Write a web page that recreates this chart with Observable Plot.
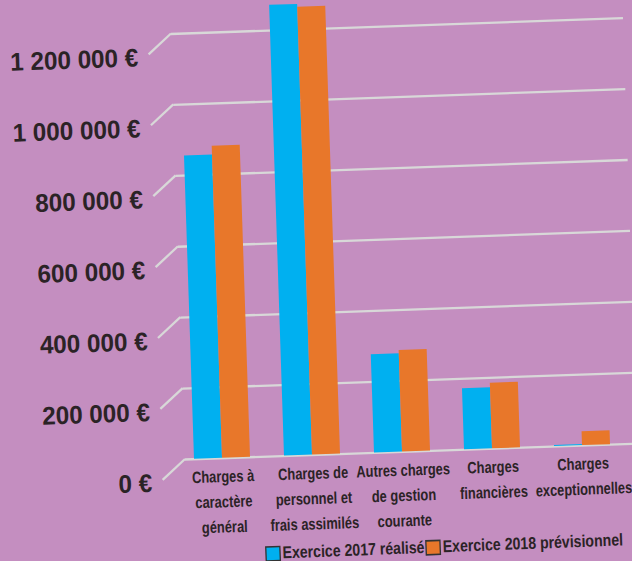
<!DOCTYPE html>
<html>
<head>
<meta charset="utf-8">
<script src="https://cdn.jsdelivr.net/npm/d3@7"></script>
<script src="https://cdn.jsdelivr.net/npm/@observablehq/plot@0.6"></script>
<style>
  html, body { margin: 0; padding: 0; background: #c48ec0; }
  #wrap { position: relative; width: 632px; height: 561px; overflow: hidden; background: #c48ec0;
    font-family: "Liberation Sans", Arial, sans-serif; }
  #wrap svg { display: block; }
  #legend { position: absolute; left: 266px; top: 544px; white-space: nowrap; width: max-content;
    transform: rotate(-2.2deg) scale(0.83, 1); transform-origin: 0 50%; }
  #legend, #legend .lg-swatches, #legend .lg-swatch { font-family: "Liberation Sans", Arial, sans-serif !important;
    font-size: 17px !important; font-weight: bold !important; color: #2b2326 !important; }
  #legend .lg-swatches { display: flex !important; flex-wrap: nowrap !important;
    align-items: center; min-height: 0 !important; margin: 0 !important; white-space: nowrap; }
  #legend .lg-swatch { margin-right: 2px !important; display: inline-flex; align-items: center; }
  #legend .lg-swatch > svg { margin-right: 3px !important; }
  #legend .lg-swatch rect { stroke: #333; stroke-width: 1.6px; }
</style>
</head>
<body>
<div id="wrap"><div id="legend"></div></div>
<script>
const categories = [
  "Charges à caractère général",
  "Charges de personnel et frais assimilés",
  "Autres charges de gestion courante",
  "Charges financières",
  "Charges exceptionnelles"
];
const categoryLabels = [
  "Charges à\ncaractère\ngénéral",
  "Charges de\npersonnel et\nfrais assimilés",
  "Autres charges\nde gestion\ncourante",
  "Charges\nfinancières",
  "Charges\nexceptionnelles"
];
const series = ["Exercice 2017 réalisé", "Exercice 2018 prévisionnel"];
const values2017 = [855000, 1271000, 277000, 172000, 3000];
const values2018 = [880000, 1263000, 286000, 185000, 39000];
const seriesColors = ["#00b0f0", "#e8772a"];
const yTicks = [0, 200000, 400000, 600000, 800000, 1000000, 1200000];
const yTickLabels = ["0 €", "200 000 €", "400 000 €", "600 000 €", "800 000 €", "1 000 000 €", "1 200 000 €"];

const rows2017 = categories.map((c, i) => ({cat: c, series: series[0], value: values2017[i]}));
const rows2018 = categories.map((c, i) => ({cat: c, series: series[1], value: values2018[i]}));

const font = '"Liberation Sans", Arial, sans-serif';
const ink = "#2b2326";

const chart = Plot.plot({
  width: 640,
  height: 561,
  marginLeft: 185,
  marginRight: 3,
  marginTop: 33.5,
  marginBottom: 102,
  style: {background: "transparent", fontFamily: font, color: ink, overflow: "visible"},
  x: {domain: categories, paddingInner: 0.383, paddingOuter: 0.182, align: 0.24, axis: null},
  y: {domain: [0, 1200000], axis: null},
  color: {domain: series, range: seriesColors},
  marks: [
    Plot.ruleY(yTicks, {stroke: "#d8d8d8", strokeWidth: 2.3}),
    Plot.barY(rows2017, {x: "cat", y: "value", fill: "series", insetRight: 28}),
    Plot.barY(rows2018, {x: "cat", y: "value", fill: "series", insetLeft: 28}),
    Plot.axisX({
      label: null, tickSize: 0, tickPadding: 6,
      tickFormat: d => categoryLabels[categories.indexOf(d)],
      fontSize: 16.5, fontWeight: "bold", lineHeight: 1.53, fill: ink
    }),
    Plot.axisY({
      label: null, ticks: yTicks, tickSize: 0, tickPadding: 34,
      tickFormat: d => yTickLabels[yTicks.indexOf(d)],
      fontSize: 25.5, fontWeight: "bold", dy: 23, fill: ink
    })
  ]
});

// narrow, tall lettering like the original
d3.select(chart).selectAll('g[aria-label="x-axis tick label"] text')
  .attr("transform", function() { return (this.getAttribute("transform") || "") + " scale(0.78,1)"; });
d3.select(chart).selectAll('g[aria-label="y-axis tick label"] text')
  .attr("transform", function() { return (this.getAttribute("transform") || "") + " scale(0.95,1)"; });

// perspective-like skew of the whole drawing
const ns = "http://www.w3.org/2000/svg";
const g = document.createElementNS(ns, "g");
g.setAttribute("transform", "translate(185,459) matrix(1,-0.035,0.033,1,0,0) translate(-185,-459)");
[...chart.childNodes].forEach(n => { if (n.nodeName.toLowerCase() !== "style") g.appendChild(n); });
chart.appendChild(g);

// side-wall connectors of the grid, positioned with Plot's y scale
const ys = chart.scale("y");
const x0 = chart.scale("x").range[0];
d3.select(g).insert("g", ":first-child")
  .attr("stroke", "#d8d8d8").attr("stroke-width", 2.3)
  .selectAll("line").data(yTicks).join("line")
  .attr("x1", x0 - 23).attr("y1", d => ys.apply(d) + 20)
  .attr("x2", x0).attr("y2", d => ys.apply(d));

chart.setAttribute("width", 632);
chart.setAttribute("viewBox", "0 0 632 561");
document.getElementById("wrap").prepend(chart);

const leg = chart.legend("color", {className: "lg", swatchWidth: 17, swatchHeight: 14});
document.getElementById("legend").appendChild(leg);
</script>
</body>
</html>
